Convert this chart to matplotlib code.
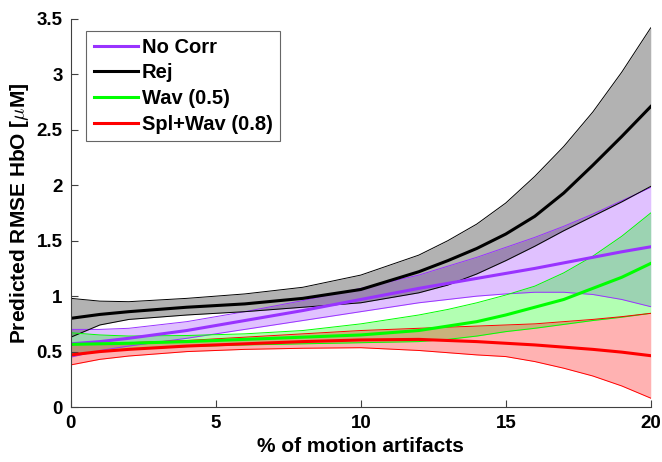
import matplotlib
matplotlib.use('Agg')
import matplotlib.pyplot as plt
from matplotlib.ticker import FormatStrFormatter

plt.rcParams['font.family'] = ['Liberation Sans', 'DejaVu Sans']
plt.rcParams['font.weight'] = 'bold'
plt.rcParams['mathtext.fontset'] = 'cm'

# % of motion artifacts
pct = [0, 1, 2, 4, 6, 8, 10, 12, 13, 14, 15, 16, 17, 18, 19, 20]

# predicted RMSE (mean, lower CI, upper CI) per correction method
nocorr_mean = [0.57, 0.59, 0.62, 0.69, 0.78, 0.87, 0.97, 1.07, 1.115, 1.16,
               1.205, 1.25, 1.30, 1.35, 1.40, 1.445]
nocorr_lo = [0.45, 0.51, 0.55, 0.62, 0.70, 0.78, 0.86, 0.94, 0.97, 1.00,
             1.02, 1.035, 1.035, 1.015, 0.97, 0.905]
nocorr_hi = [0.70, 0.70, 0.71, 0.77, 0.86, 0.96, 1.07, 1.19, 1.27, 1.35,
             1.44, 1.53, 1.63, 1.74, 1.86, 1.98]

rej_mean = [0.80, 0.835, 0.86, 0.90, 0.93, 0.98, 1.06, 1.22, 1.32, 1.43,
            1.56, 1.72, 1.93, 2.18, 2.44, 2.71]
rej_lo = [0.63, 0.74, 0.79, 0.83, 0.86, 0.90, 0.94, 1.03, 1.10, 1.20,
          1.32, 1.45, 1.59, 1.72, 1.85, 1.99]
rej_hi = [0.98, 0.955, 0.95, 0.98, 1.02, 1.08, 1.19, 1.37, 1.50, 1.65,
          1.84, 2.08, 2.35, 2.66, 3.02, 3.42]

wav_mean = [0.565, 0.57, 0.575, 0.59, 0.61, 0.63, 0.65, 0.69, 0.73, 0.77,
            0.83, 0.90, 0.97, 1.07, 1.17, 1.295]
wav_lo = [0.47, 0.50, 0.52, 0.545, 0.56, 0.57, 0.58, 0.59, 0.61, 0.64,
          0.68, 0.71, 0.745, 0.78, 0.81, 0.845]
wav_hi = [0.67, 0.65, 0.64, 0.645, 0.66, 0.69, 0.75, 0.83, 0.88, 0.94,
          1.01, 1.09, 1.21, 1.36, 1.54, 1.75]

splwav_mean = [0.47, 0.50, 0.52, 0.55, 0.57, 0.59, 0.605, 0.61, 0.60, 0.59,
               0.575, 0.56, 0.54, 0.52, 0.495, 0.463]
splwav_lo = [0.38, 0.43, 0.46, 0.50, 0.52, 0.53, 0.535, 0.51, 0.49, 0.47,
             0.455, 0.41, 0.35, 0.28, 0.19, 0.08]
splwav_hi = [0.56, 0.57, 0.58, 0.60, 0.63, 0.66, 0.69, 0.71, 0.72, 0.73,
             0.74, 0.75, 0.77, 0.79, 0.815, 0.845]

labels = ['No Corr', 'Rej', 'Wav (0.5)', 'Spl+Wav (0.8)']
colors = [(0.6, 0.2, 1.0), 'k', (0.0, 1.0, 0.0), (1.0, 0.0, 0.0)]

fig = plt.figure(figsize=(6.62, 4.62), dpi=100)
ax = fig.add_axes([0.107, 0.119, 0.876, 0.84])

series = [(nocorr_mean, nocorr_lo, nocorr_hi),
          (rej_mean, rej_lo, rej_hi),
          (wav_mean, wav_lo, wav_hi),
          (splwav_mean, splwav_lo, splwav_hi)]

# shaded confidence bands with thin edge lines
for (m, lo, hi), c in zip(series, colors):
    ax.fill_between(pct, lo, hi, color=c, alpha=0.3, linewidth=0)
    ax.plot(pct, lo, color=c, linewidth=0.7)
    ax.plot(pct, hi, color=c, linewidth=0.7)

lines = []
for (m, lo, hi), c, lab in zip(series, colors, labels):
    ln, = ax.plot(pct, m, color=c, linewidth=2.2, label=lab)
    lines.append(ln)

ax.set_xlim(0, 20)
ax.set_ylim(0, 3.5)
ax.set_xticks([0, 5, 10, 15, 20])
ax.set_yticks([0, 0.5, 1, 1.5, 2, 2.5, 3, 3.5])
ax.yaxis.set_major_formatter(FormatStrFormatter('%g'))
ax.tick_params(direction='in', length=5, width=0.8, color='#404040',
               labelsize=13.5, pad=6)
for t in ax.get_xticklabels() + ax.get_yticklabels():
    t.set_fontweight('bold')

for s in ['top', 'right']:
    ax.spines[s].set_visible(False)
for s in ['left', 'bottom']:
    ax.spines[s].set_color('#404040')
    ax.spines[s].set_linewidth(0.8)

ax.set_xlabel('% of motion artifacts', fontsize=15, fontweight='bold',
              labelpad=3)
ax.set_ylabel(r'Predicted RMSE HbO [$\mu$M]', fontsize=15,
              fontweight='bold', labelpad=4)

leg = ax.legend(handles=lines, loc='upper left', bbox_to_anchor=(0.02, 0.98),
                fontsize=14.5, frameon=True, fancybox=False,
                handlelength=2.2, handletextpad=0.2, labelspacing=0.33,
                borderpad=0.35, borderaxespad=0.2)
leg.get_frame().set_edgecolor('#404040')
leg.get_frame().set_linewidth(0.8)
for t in leg.get_texts():
    t.set_fontweight('bold')

fig.savefig('out.png', dpi=100)
